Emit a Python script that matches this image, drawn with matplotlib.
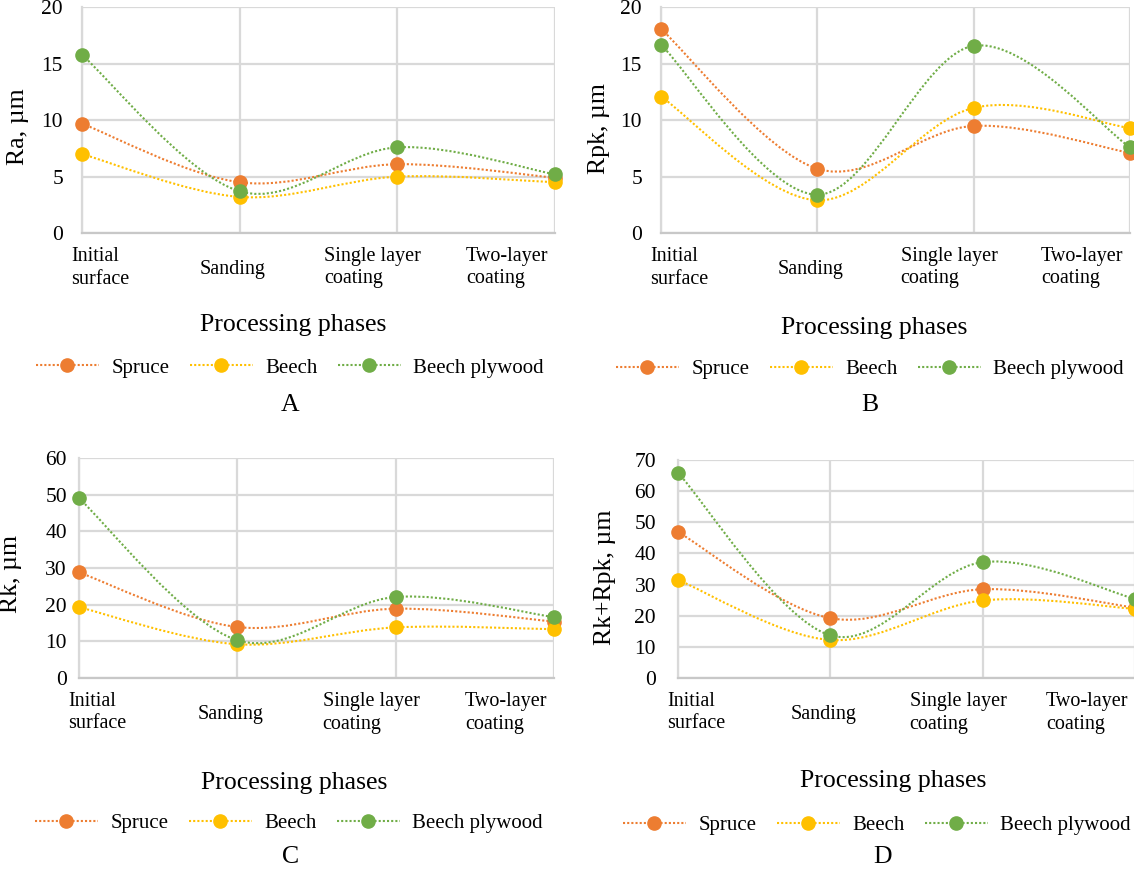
import matplotlib.pyplot as plt
from matplotlib.path import Path
from matplotlib.patches import PathPatch
from matplotlib.lines import Line2D

plt.rcParams['font.family'] = ['Liberation Serif', 'DejaVu Serif']

# categories and series
phases = ['Initial\nsurface', 'Sanding', 'Single layer\ncoating', 'Two-layer\ncoating']
species = ['Spruce', 'Beech', 'Beech plywood']
colors = ['#ED7D31', '#FFC000', '#70AD47']

# Ra, um
ra_spruce = [9.7, 4.5, 6.1, 4.9]
ra_beech = [7.0, 3.2, 5.0, 4.5]
ra_plywood = [15.8, 3.7, 7.6, 5.2]

# Rpk, um
rpk_spruce = [18.1, 5.7, 9.5, 7.1]
rpk_beech = [12.1, 2.9, 11.1, 9.3]
rpk_plywood = [16.7, 3.4, 16.6, 7.6]

# Rk, um
rk_spruce = [28.8, 13.9, 18.9, 15.4]
rk_beech = [19.3, 9.2, 13.8, 13.3]
rk_plywood = [49.0, 10.3, 22.1, 16.6]

# Rk+Rpk, um
rkrpk_spruce = [46.9, 19.2, 28.5, 22.6]
rkrpk_beech = [31.5, 12.2, 24.9, 22.2]
rkrpk_plywood = [65.9, 13.7, 37.2, 25.4]

W, H = 1134, 869
fig = plt.figure(figsize=(W / 100, H / 100), dpi=100)


def fx(px):
    return px / W


def fy(py):
    return 1 - py / H


def smooth_path(xs, ys):
    # cubic bezier through the points, like a spreadsheet "smoothed line"
    pts = list(zip(xs, ys))
    n = len(pts)
    verts = [pts[0]]
    codes = [Path.MOVETO]
    for i in range(n - 1):
        p0 = pts[max(i - 1, 0)]
        p1 = pts[i]
        p2 = pts[i + 1]
        p3 = pts[min(i + 2, n - 1)]
        c1 = (p1[0] + (p2[0] - p0[0]) / 6, p1[1] + (p2[1] - p0[1]) / 6)
        c2 = (p2[0] - (p3[0] - p1[0]) / 6, p2[1] - (p3[1] - p1[1]) / 6)
        verts += [c1, c2, p2]
        codes += [Path.CURVE4] * 3
    return Path(verts, codes)


dots = (0, (1, 1))
grid_col = '#d9d9d9'


def panel(box, data, ylabel, ymax, ystep, ylab_xy, pad_px, xlab_xy, leg_xy, letter_xy, letter):
    left, top, right, bottom = box
    ax = fig.add_axes([fx(left), fy(bottom), (right - left) / W, (bottom - top) / H])
    x = list(range(len(phases)))
    for vals, col in zip(data, colors):
        ax.add_patch(PathPatch(smooth_path(x, vals), fill=False, edgecolor=col,
                               lw=1.5, ls=dots, clip_on=False, zorder=3))
        ax.plot(x, vals, ls='none', marker='o', ms=9.5, color=col,
                clip_on=False, zorder=4)

    ax.set_xlim(0, len(phases) - 1)
    ax.set_ylim(0, ymax)
    ax.set_yticks(range(0, ymax + 1, ystep))
    ax.set_xticks(x)
    ax.set_xticklabels([])
    ax.grid(True, color=grid_col, lw=1.6)
    ax.set_axisbelow(True)
    for s in ['top', 'right']:
        ax.spines[s].set_visible(False)
    ax.spines['left'].set_color(grid_col)
    ax.spines['bottom'].set_color('#c8c8c8')
    ax.spines['left'].set_linewidth(1.6)
    ax.spines['bottom'].set_linewidth(1.6)
    ax.tick_params(length=0, labelsize=15.5, pad=pad_px * 0.72)

    # category labels under the axis
    offsets = [(-11, -14), (-40, -27), (-73, -14), (-89, -14)]
    for i, (lab, (dx, dy)) in enumerate(zip(phases, offsets)):
        ax.annotate(lab, xy=(i, 0), xycoords=('data', 'axes fraction'),
                    xytext=(dx, dy), textcoords='offset pixels',
                    ha='left', va='top', fontsize=14.5, linespacing=1.25,
                    annotation_clip=False)

    ax.set_ylabel(ylabel, fontsize=18.5, va='center')
    ax.yaxis.set_label_coords(fx(ylab_xy[0]), fy(ylab_xy[1]), transform=fig.transFigure)

    fig.text(fx(xlab_xy[0]), fy(xlab_xy[1]), 'Processing phases',
             ha='center', va='center', fontsize=18.5)

    handles = [Line2D([], [], color=c, lw=1.5, ls=dots, marker='o', ms=9.5) for c in colors]
    ax.legend(handles, species, loc='center', bbox_to_anchor=(fx(leg_xy[0]), fy(leg_xy[1])),
              bbox_transform=fig.transFigure, ncol=3, frameon=False, fontsize=15,
              handlelength=3.0, handletextpad=0.6, columnspacing=1.0)

    fig.text(fx(letter_xy[0]), fy(letter_xy[1]), letter, ha='center', va='center', fontsize=18.5)
    return ax


panel((82, 7.5, 555, 233), [ra_spruce, ra_beech, ra_plywood], 'Ra, µm', 20, 5,
      (18, 127), 19, (293, 325), (290, 368), (290, 405), 'A')
panel((661, 7.5, 1130, 233), [rpk_spruce, rpk_beech, rpk_plywood], 'Rpk, µm', 20, 5,
      (599, 129), 19, (874, 328), (870, 369), (870, 405), 'B')
panel((79, 458, 554, 678), [rk_spruce, rk_beech, rk_plywood], 'Rk, µm', 60, 10,
      (11, 574), 12, (294, 783), (289, 823), (291, 857), 'C')
panel((678, 460, 1135, 678), [rkrpk_spruce, rkrpk_beech, rkrpk_plywood], 'Rk+Rpk, µm', 70, 10,
      (605, 577), 22, (893, 781), (877, 825), (883, 857), 'D')

fig.savefig('out.png', dpi=100)
